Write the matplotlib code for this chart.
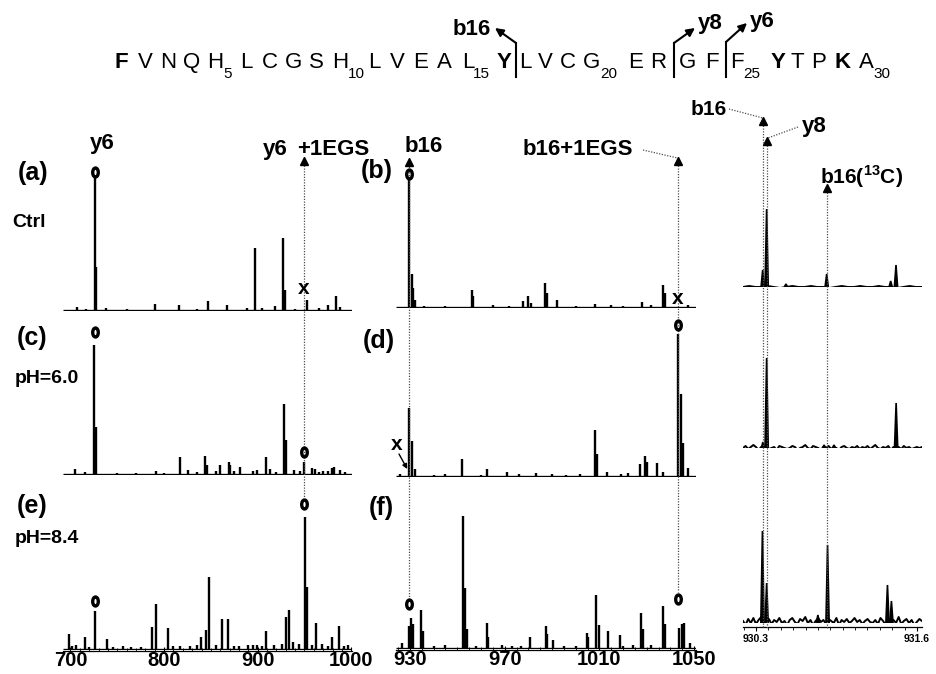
# -*- coding: utf-8 -*-
"""MS/MS spectra of the cross-linked peptide: low-res fragments (a-f) and high-res zoom."""
import numpy as np
import matplotlib
matplotlib.use("Agg")
import matplotlib.pyplot as plt
from matplotlib import font_manager
from matplotlib.path import Path
from matplotlib.transforms import Affine2D

W, H = 936, 674

# ---------------- data ----------------
SEQ = list("FVNQHLCGSHLVEALYLVCGERGFFYTPKA")
SEQ_BOLD = [1, 16, 26, 29]          # residue numbers printed bold
SEQ_SUB = [5, 10, 15, 20, 25, 30]   # residue numbers with a subscript

# fragment m/z used for the guide lines
Y6, Y6_EGS = 726.1, 949.5
B16, B16_EGS = 929.7, 1043.0
HR_B16, HR_Y8, HR_B16_13C = 930.355, 930.388, 930.872

# (a) Ctrl, 700-1000
A_MZ = [707, 717, 726, 727.5, 738, 760, 790.5, 816, 835, 847, 867, 889, 897, 905, 919,
        927, 928.8, 940, 953, 965, 975, 984, 988]
A_INT = [4, 2, 133, 44, 3, 2, 7, 6, 2, 10, 6, 3, 63, 3, 5, 73, 21, 2, 11, 3, 6, 15, 4]
# (c) pH 6.0
C_MZ = [705, 715, 725.5, 727, 750, 770, 791.5, 800, 817, 826, 835, 844, 845.7, 855, 860,
        869, 870.6, 875, 881, 895, 899, 909, 913.5, 920, 928.6, 930.1, 939, 945, 949.5,
        958, 961.4, 966, 970, 975, 979.3, 982, 988, 993]
C_INT = [6, 3, 130, 48, 2, 2, 4, 2, 18, 5, 3, 19, 10, 4, 10, 13, 10, 4, 8, 4, 5, 18, 6, 3,
         71, 35, 5, 4, 13, 7, 6, 3, 4, 4, 7, 8, 5, 3]
# (e) pH 8.4
E_MZ = [698, 702, 706, 715.7, 720, 726.4, 739, 745, 756.6, 765, 775, 787, 791.6, 804.7,
        810, 817, 828, 835, 839.6, 844.7, 848.5, 855, 861.8, 868.8, 875, 880, 890, 895.5,
        899, 905, 909, 917, 926, 930, 934, 938, 944, 950.3, 952.2, 958, 962.5, 968.6, 975,
        979.3, 987, 992, 997]
E_INT = [16, 4, 5, 13, 3, 39, 11, 3, 4, 3, 3, 23, 46, 22, 4, 4, 4, 5, 13, 20, 73, 5, 31,
         31, 4, 4, 5, 5, 5, 4, 19, 5, 6, 33, 40, 8, 6, 133, 63, 5, 27, 6, 4, 13, 24, 4, 5]
# (b) Ctrl, 930-1050
B_MZ = [929.7, 930.7, 931.3, 932.1, 936, 945, 956.1, 956.7, 965, 972, 977.9, 980, 981.1,
        987, 987.8, 992, 1000, 1008.2, 1015, 1020, 1028, 1032, 1037, 1037.7, 1047.4]
B_INT = [131, 34, 20, 8, 2, 2, 18, 12, 3, 2, 7, 12, 5, 25, 15, 8, 2, 4, 3, 2, 6, 3, 23, 15, 3]
# (d) pH 6.0
D_MZ = [926, 929.7, 930.7, 932.1, 940, 945, 951.8, 960, 962.4, 970.9, 976, 983.2, 990,
        996, 1002, 1008.2, 1009.1, 1013.1, 1019, 1022, 1027.2, 1029.3, 1030, 1034.2, 1037,
        1043.4, 1044.4, 1045.2, 1047.6]
D_INT = [3, 69, 36, 8, 2, 3, 18, 2, 8, 5, 3, 4, 3, 2, 3, 47, 23, 5, 3, 4, 13, 21, 15, 14,
         5, 143, 83, 34, 9]
# (f) pH 8.4
F_MZ = [926.5, 929.7, 930.3, 931.1, 934.6, 935.4, 940, 944.8, 952.3, 953.2, 954, 958,
        962.4, 963.1, 968.7, 973, 977, 980.7, 987.3, 988, 990.5, 995, 1000, 1004.6, 1005.3,
        1008.6, 1009.8, 1013.5, 1018.7, 1020, 1024.3, 1027.6, 1028.3, 1032, 1037, 1037.7,
        1043.8, 1044.8, 1045.8, 1048.2]
F_INT = [6, 23, 31, 25, 39, 18, 3, 4, 133, 61, 20, 3, 26, 12, 4, 3, 3, 12, 23, 15, 9, 3, 3,
         16, 12, 54, 24, 18, 14, 3, 4, 36, 20, 4, 43, 25, 21, 25, 26, 6]

# high-resolution zoom, 930.3-931.6 (top: Ctrl, middle: pH 6.0, bottom: pH 8.4)
HR_TOP_MZ = [930.354, 930.386, 930.542, 930.871, 931.388, 931.431]
HR_TOP_INT = [17, 78, 3, 13, 6, 22]
HR_MID_MZ = [930.356, 930.386, 930.85, 930.93, 931.432]
HR_MID_INT = [6, 90, 3, 3, 45]
HR_BOT_MZ = [930.352, 930.386, 930.80, 930.878, 931.362, 931.394]
HR_BOT_INT = [92, 40, 8, 78, 38, 22]
HR_TOP_NOISE = [0, 1, 0, 0, 1, 0, -1, 0, 1, 0, 0, 1, 0, 0, -1, 0, 1, 0, 0, 1, 0, 0, 1, 0, 0,
                -1, 0, 1, 0, 0]
HR_MID_NOISE = [0, 2, -1, 1, 3, 1, -2, 1, 0, 2, -1, 0, 1, -2, 2, 1, 0, -1, 0, 2, 1, -2, 0,
                1, 3, 0, -1, 2, 1, 0, -2, 1, 0, 2, -1, 1, 0, -2, 1, 2, 0, -1, 1, 0, 2, -1,
                1, 0, 2, -1, 1, 3, 0, -1, 1, 0, 2, -2, 1, 0, 1, -1, 2, 0, 1, -1, 0, 1, 0, 1]
HR_BOT_NOISE = [2, -2, 4, 0, 5, -1, 3, 6, -2, 2, 4, -1, 3, 1, 5, 0, 2, -2, 3, 5, 1, -1, 4,
                2, 6, 0, 3, -2, 2, 5, 1, 3, -1, 4, 2, 0, 5, -2, 3, 1, 4, 0, 2, 5, 1, 3, -1,
                2, 4, 1, 0, 3, -1, 5, 2, -2, 4, 1, 3, 0, 6, -1, 2, 4, 0, 3, -2, 1, 4, 2]

LEFT_TICKS = [700, 800, 900, 1000]
MID_TICKS = [930, 970, 1010, 1050]
HR_TICKS = [930.3, 931.6]

# ---------------- layout (pixels) ----------------
SEQ_X = [121, 145, 168.5, 192, 215.5, 246, 269.5, 293, 316.5, 340, 374, 397.5, 421, 444.5,
         468, 504, 525, 545, 568, 592, 636, 658, 688, 712, 737, 778, 797, 819, 843, 866]
SUB_DX = {"H": 8, "L": 5, "G": 8, "F": 6, "A": 7}
LEFT_X, MID_X, HR_X = (63, 352.2), (396, 696), (743, 922)
LEFT_LIM, MID_LIM, HR_LIM = (692, 1001), (924.1, 1050.8), (930.195, 931.641)

avail = {f.name for f in font_manager.fontManager.ttflist}
SEQ_FONT = "Liberation Sans Narrow" if "Liberation Sans Narrow" in avail else "Liberation Sans"
SEQ_SIZE = 18 if SEQ_FONT.endswith("Narrow") else 16
plt.rcParams["font.family"] = ["Liberation Sans", "DejaVu Sans"]
plt.rcParams["mathtext.fontset"] = "custom"
plt.rcParams["mathtext.rm"] = "Liberation Sans"
plt.rcParams["mathtext.bf"] = "Liberation Sans:bold"

fig = plt.figure(figsize=(W / 100, H / 100), dpi=100, facecolor="white")


def panel(xr, base, xlim, height=150):
    ax = fig.add_axes([xr[0] / W, 1 - base / H, (xr[1] - xr[0]) / W, height / H])
    ax.set_xlim(xlim)
    ax.set_ylim(0, height)
    ax.patch.set_alpha(0)
    for s in ax.spines.values():
        s.set_visible(False)
    ax.set_yticks([])
    ax.set_xticks([])
    return ax


def sticks(ax, mz, inten):
    ax.axhline(0, color="k", lw=2.4, solid_capstyle="butt")
    ax.vlines(mz, 0, inten, color="k", lw=1.7, clip_on=False)


def bottom_axis(ax, ticks, minor, size, pad, offset, direction="in"):
    sp = ax.spines["bottom"]
    sp.set_visible(True)
    sp.set_linewidth(0.9)
    sp.set_position(("outward", offset))
    ax.set_xticks(ticks)
    ax.set_xticklabels([f"{t:g}" for t in ticks], fontsize=size, fontweight="bold")
    ax.set_xticks(minor, minor=True)
    ax.tick_params(axis="x", which="major", direction=direction, length=3, width=0.8, pad=pad)
    ax.tick_params(axis="x", which="minor", direction=direction, length=2, width=0.6)


axA = panel(LEFT_X, 311, LEFT_LIM); sticks(axA, A_MZ, A_INT)
axC = panel(LEFT_X, 475, LEFT_LIM); sticks(axC, C_MZ, C_INT)
axE = panel(LEFT_X, 650, LEFT_LIM); sticks(axE, E_MZ, E_INT)
axB = panel(MID_X, 308, MID_LIM); sticks(axB, B_MZ, B_INT)
axD = panel(MID_X, 477, MID_LIM); sticks(axD, D_MZ, D_INT)
axF = panel(MID_X, 649, MID_LIM); sticks(axF, F_MZ, F_INT)
bottom_axis(axE, LEFT_TICKS, np.arange(700, 1001, 10), 14.5, 0, 1)
bottom_axis(axF, MID_TICKS, np.arange(925, 1051, 5), 14.5, 0, 1)

HR_W = 0.013  # drawn half-width of a high-res peak
for base, mz, inten, noise in [(287, HR_TOP_MZ, HR_TOP_INT, HR_TOP_NOISE),
                               (448, HR_MID_MZ, HR_MID_INT, HR_MID_NOISE),
                               (623, HR_BOT_MZ, HR_BOT_INT, HR_BOT_NOISE)]:
    ax = panel(HR_X, base, HR_LIM)
    ax.plot(np.linspace(HR_LIM[0], HR_LIM[1], len(noise)), noise, color="k", lw=1.4)
    for c, h in zip(mz, inten):
        ax.fill([c - HR_W, c, c + HR_W], [0, h, 0], color="k", lw=1.2)
    if base == 623:
        axHR = ax
bottom_axis(axHR, HR_TICKS, np.arange(930.2, 931.65, 0.1), 7.5, 2, 3, direction="out")

# ---------------- overlay for labels, guides and markers ----------------
ov = fig.add_axes([0, 0, 1, 1], zorder=10)
ov.set_xlim(0, W)
ov.set_ylim(H, 0)
ov.axis("off")
ov.patch.set_alpha(0)


def px(ax, mz):
    return ax.transData.transform((mz, 0))[0]


def txt(x, y, s, size=15, ha="left", weight="bold", **kw):
    ov.text(x, y, s, fontsize=size, ha=ha, va="baseline", fontweight=weight, **kw)


def guide(x, y0, y1):
    ov.plot([x, x], [y0, y1], color="0.3", lw=0.9, ls=(0, (1, 1.2)))
    ov.plot(x, y0 + 4, marker="^", ms=6, color="k")


def leader(x0, y0, x1, y1):
    ov.plot([x0, x1], [y0, y1], color="0.3", lw=0.9, ls=(0, (1, 1.2)))


O_MARK = Path.unit_circle().transformed(Affine2D().scale(0.62, 1.0))


def omark(x, y):
    ov.plot(x, y, marker=O_MARK, ms=6.5, mfc="none", mec="k", mew=2.4)


def xmark(x, y):
    ov.text(x, y, "x", fontsize=15, fontweight="bold", ha="center", va="center")


# peptide sequence with cleavage sites
for i, (aa, x) in enumerate(zip(SEQ, SEQ_X), start=1):
    ov.text(x, 68, aa, fontsize=SEQ_SIZE, family=SEQ_FONT, ha="center", va="baseline",
            fontweight="bold" if i in SEQ_BOLD else "normal")
    if i in SEQ_SUB:
        ov.text(x + SUB_DX.get(aa, 7), 78, str(i), fontsize=11, family=SEQ_FONT,
                ha="left", va="baseline")

for (xb, ytop, tip) in [(516, 43, (495, 28)), (674, 43, (695, 28)), (726, 42, (747, 23))]:
    ov.plot([xb, xb], [77, ytop], color="k", lw=1.5)
    ov.annotate("", xy=tip, xytext=(xb, ytop),
                arrowprops=dict(arrowstyle="-|>", color="k", lw=1.5, mutation_scale=12,
                                shrinkA=0, shrinkB=0))
txt(472, 35, "b16", 16, ha="center")
txt(698, 29, "y8", 16)
txt(750, 27, "y6", 16)

# panel labels
for s, x, y in [("(a)", 33, 180), ("(b)", 377, 178), ("(c)", 32, 345),
                ("(d)", 379, 348), ("(e)", 32, 513), ("(f)", 381, 515)]:
    txt(x, y, s, 18, ha="center")
txt(29, 227, "Ctrl", 14, ha="center")
txt(47, 383, "pH=6.0", 14, ha="center")
txt(47, 543, "pH=8.4", 14, ha="center")

# left column guides
xy6, xy6e = px(axA, Y6), px(axA, Y6_EGS)
txt(xy6 + 7, 149, "y6", 16, ha="center")
txt(263, 155, "y6", 16)
txt(xy6e - 7, 155, "+1EGS", 16)
guide(xy6e, 157, 497)
omark(xy6, 172); xmark(xy6e, 288)
omark(xy6, 332); omark(xy6e, 452)
omark(xy6e, 504); omark(xy6, 601)

# middle column guides
xb, xbe = px(axB, B16), px(axB, B16_EGS)
txt(405, 152, "b16", 16)
txt(523, 155, "b16+1EGS", 16)
leader(643, 150, xbe, 158)
guide(xb, 158, 597)
guide(xbe, 157, 592)
omark(xb, 174); xmark(xbe, 298)
omark(xbe, 325)
xmark(397, 444)
ov.annotate("", xy=(xb - 2, 469), xytext=(399, 454),
            arrowprops=dict(arrowstyle="-|>", color="k", lw=1.0, mutation_scale=7,
                            shrinkA=0, shrinkB=0))
omark(xb, 604); omark(xbe, 599)

# high-res guides
xh1, xh2, xh3 = px(axHR, HR_B16), px(axHR, HR_Y8), px(axHR, HR_B16_13C)
guide(xh1, 117, 628)
guide(xh2, 137, 628)
guide(xh3, 184, 628)
txt(727, 115, "b16", 15, ha="right")
leader(729, 109, xh1, 118)
txt(802, 132, "y8", 16)
leader(798, 127, xh2 + 1, 138)
txt(820, 184, r"b16($^{\mathbf{13}}$C)", 15)

fig.savefig("out.png", dpi=100, facecolor="white")
